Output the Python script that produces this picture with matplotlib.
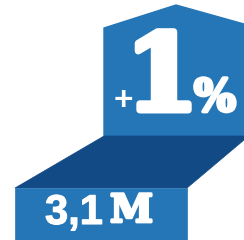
import matplotlib
matplotlib.use("Agg")
import matplotlib.pyplot as plt
from matplotlib.patches import Polygon
import matplotlib.patheffects as pe

# values shown in the graphic
base_value = "3,1"
base_unit = "M"
change_sign = "+"
change_value = "1"
change_unit = "%"

MID = "#2576b6"
DARK = "#124a86"

W, H = 244, 240
fig = plt.figure(figsize=(W / 100, H / 100), dpi=100)
ax = fig.add_axes([0, 0, 1, 1])
ax.set_xlim(0, W)
ax.set_ylim(H, 0)
ax.set_axis_off()

# tall right block with roof
ax.add_patch(Polygon([(104, 137), (104, 28), (176, 5), (244, 24), (244, 137)],
                     closed=True, fc=MID, ec=MID, lw=1.0, joinstyle="round"))
# dark slanted top of the lower step
ax.add_patch(Polygon([(15, 188), (104, 136), (244, 136), (244, 140), (187, 188)],
                     closed=True, fc=DARK, ec=DARK, lw=0.5))
# lower block
ax.add_patch(Polygon([(15, 188), (187, 188), (187, 241), (15, 241)],
                     closed=True, fc=MID, ec=MID, lw=0.5))

def heavy(w):
    return [pe.withStroke(linewidth=w, foreground="white")]

ax.text(45, 224, base_value, color="white", fontsize=30, fontweight="bold",
        family="Liberation Sans", ha="left", va="baseline",
        path_effects=heavy(0.8))
ax.text(110, 222, base_unit, color="white", fontsize=28, fontweight="bold",
        family="DejaVu Serif", ha="left", va="baseline",
        path_effects=heavy(2.0))

ax.text(123, 110, change_sign, color="white", fontsize=24, fontweight="bold",
        family="Liberation Sans", ha="center", va="baseline")
ax.text(162, 110, change_value, color="white", fontsize=76, fontweight="bold",
        family="DejaVu Serif", ha="center", va="baseline",
        path_effects=heavy(5.0))
ax.text(215, 111, change_unit, color="white", fontsize=32, fontweight="bold",
        family="DejaVu Serif", ha="center", va="baseline",
        path_effects=heavy(2.5))

fig.savefig("out.png", dpi=100, facecolor="white")
